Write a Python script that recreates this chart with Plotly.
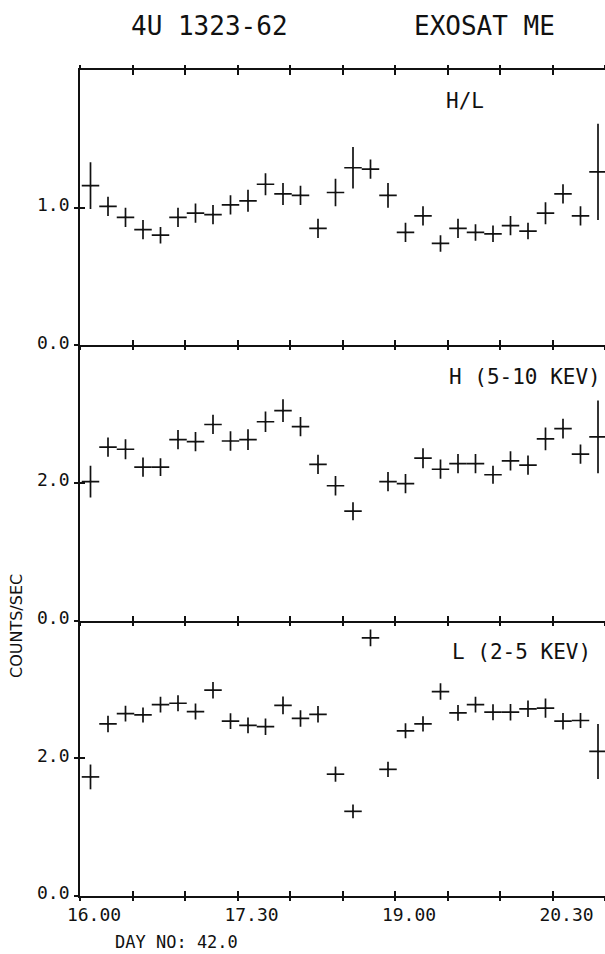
import plotly.graph_objects as go

# ---------------- data ----------------
times = ["16:06", "16:16", "16:26", "16:36", "16:46", "16:56",
         "17:06", "17:16", "17:26", "17:36", "17:46", "17:56",
         "18:06", "18:16", "18:26", "18:36", "18:46", "18:56",
         "19:06", "19:16", "19:26", "19:36", "19:46", "19:56",
         "20:06", "20:16", "20:26", "20:36", "20:46", "20:56"]
bin_half_width_min = 5

hl = [1.16, 1.01, 0.93, 0.84, 0.80, 0.93, 0.96, 0.95, 1.02, 1.05,
      1.17, 1.10, 1.09, 0.85, 1.11, 1.29, 1.28, 1.09, 0.82, 0.94,
      0.74, 0.85, 0.82, 0.81, 0.87, 0.83, 0.96, 1.10, 0.94, 1.26]
hl_err = [0.17, 0.07, 0.07, 0.07, 0.06, 0.07, 0.07, 0.07, 0.07, 0.08,
          0.08, 0.08, 0.07, 0.07, 0.10, 0.15, 0.07, 0.09, 0.07, 0.07,
          0.06, 0.07, 0.06, 0.06, 0.07, 0.06, 0.08, 0.07, 0.07, 0.35]

h = [2.02, 2.52, 2.49, 2.23, 2.23, 2.63, 2.60, 2.85, 2.61, 2.63,
     2.89, 3.05, 2.82, 2.27, 1.96, 1.59, 4.80, 2.02, 1.99, 2.36,
     2.20, 2.28, 2.28, 2.12, 2.32, 2.26, 2.64, 2.79, 2.42, 2.67]
h_err = [0.23, 0.14, 0.145, 0.14, 0.13, 0.14, 0.14, 0.14, 0.14, 0.15,
         0.15, 0.165, 0.14, 0.14, 0.14, 0.13, 0.15, 0.14, 0.14, 0.145,
         0.14, 0.14, 0.14, 0.13, 0.14, 0.14, 0.165, 0.145, 0.14, 0.53]

l = [1.73, 2.50, 2.65, 2.63, 2.78, 2.80, 2.68, 2.99, 2.54, 2.48,
     2.46, 2.77, 2.58, 2.64, 1.77, 1.23, 3.75, 1.84, 2.40, 2.50,
     2.97, 2.66, 2.78, 2.67, 2.67, 2.72, 2.73, 2.54, 2.55, 2.10]
l_err = [0.18, 0.12, 0.115, 0.11, 0.115, 0.115, 0.115, 0.12, 0.115, 0.115,
         0.12, 0.13, 0.12, 0.12, 0.11, 0.10, 0.12, 0.11, 0.11, 0.11,
         0.12, 0.115, 0.115, 0.115, 0.12, 0.12, 0.14, 0.12, 0.11, 0.40]

x_tick_vals = [16.0, 16.5, 17.0, 17.5, 18.0, 18.5, 19.0, 19.5, 20.0, 20.5, 21.0]
x_tick_text = ["16.00", "", "", "17.30", "", "", "19.00", "", "", "20.30", ""]
x_range = [16.0, 21.0]

panel_labels = ["H/L", "H (5-10 KEV)", "L (2-5 KEV)"]
y_ranges = [[0, 2], [0, 4], [0, 4]]
y_tick_vals = [[0, 1], [0, 2], [0, 2]]
y_tick_text = [["0.0", "1.0"], ["0.0", "2.0"], ["0.0", "2.0"]]

title_left = "4U 1323-62"
title_right = "EXOSAT ME"
day_label = "DAY NO: 42.0"
y_title = "COUNTS/SEC"

# ---------------- figure ----------------
def to_hours(t):
    hh, mm = t.split(":")
    return int(hh) + int(mm) / 60.0

hours = [to_hours(t) for t in times]

MONO = "DejaVu Sans Mono, Liberation Mono, monospace"
INK = "#111111"
LW = 1.7

series = [(hl, hl_err), (h, h_err), (l, l_err)]
domains = [[2 / 3, 1.0], [1 / 3, 2 / 3], [0.0, 1 / 3]]

fig = go.Figure()
layout = dict(
    width=605, height=954,
    margin=dict(l=80, r=0, t=70, b=58, pad=0),
    paper_bgcolor="white", plot_bgcolor="white",
    showlegend=False,
    font=dict(family=MONO, color=INK, size=18),
)

for i, (vals, errs) in enumerate(series):
    n = i + 1
    xa = "x" if n == 1 else f"x{n}"
    ya = "y" if n == 1 else f"y{n}"
    fig.add_trace(go.Scatter(
        x=hours, y=vals, xaxis=xa, yaxis=ya, mode="markers",
        marker=dict(size=2, color=INK),
        error_x=dict(type="constant", value=bin_half_width_min / 60.0,
                     thickness=LW, width=0, color=INK),
        error_y=dict(type="data", array=errs, visible=True,
                     thickness=LW, width=0, color=INK),
        hoverinfo="skip", cliponaxis=True,
    ))
    # overlay axes pair (gives ticks crossing the frame lines)
    m = n + 3
    fig.add_trace(go.Scatter(
        x=hours[:1], y=vals[:1], xaxis=f"x{m}", yaxis=f"y{m}", mode="markers",
        marker=dict(opacity=0), hoverinfo="skip",
    ))
    xkey = "xaxis" if n == 1 else f"xaxis{n}"
    ykey = "yaxis" if n == 1 else f"yaxis{n}"
    layout[xkey] = dict(
        domain=[0, 1], anchor=ya, range=x_range,
        showline=True, linecolor=INK, linewidth=LW,
        mirror=("allticks" if n == 1 else False),
        ticks="inside", ticklen=5, tickwidth=1.5, tickcolor=INK,
        tickvals=x_tick_vals, ticktext=x_tick_text,
        showticklabels=(n == 3), ticklabelshift=14, ticklabelstandoff=2,
        tickfont=dict(family=MONO, size=18, color=INK),
        showgrid=False, zeroline=False, fixedrange=True,
    )
    layout[ykey] = dict(
        domain=domains[i], anchor=xa, range=y_ranges[i],
        showline=True, linecolor=INK, linewidth=LW, mirror=False,
        ticks="inside", ticklen=5, tickwidth=1.5, tickcolor=INK,
        tickvals=y_tick_vals[i], ticktext=y_tick_text[i],
        ticklabelshift=-3, ticklabelstandoff=5,
        tickfont=dict(family=MONO, size=18, color=INK),
        showgrid=False, zeroline=False, fixedrange=True,
    )
    layout[f"xaxis{m}"] = dict(
        overlaying=xa, anchor=f"y{m}", range=x_range,
        showline=False, mirror=("allticks" if n == 1 else False),
        ticks="outside", ticklen=4, tickwidth=1.5, tickcolor=INK,
        tickvals=x_tick_vals, showticklabels=False,
        showgrid=False, zeroline=False, fixedrange=True,
    )
    layout[f"yaxis{m}"] = dict(
        overlaying=ya, anchor=f"x{m}", range=y_ranges[i],
        showline=False,
        ticks="outside", ticklen=5, tickwidth=1.5, tickcolor=INK,
        tickvals=y_tick_vals[i], showticklabels=False,
        showgrid=False, zeroline=False, fixedrange=True,
    )

PLOT_W = 605 - 80
PLOT_H = 954 - 70 - 58
def px_x(px):
    return (px - 80) / PLOT_W
def px_y(py):
    return (954 - 58 - py) / PLOT_H

annotations = [
    dict(text=title_left, x=px_x(209), y=px_y(26), xanchor="center", yanchor="middle",
         font=dict(family=MONO, size=26, color=INK)),
    dict(text=title_right, x=px_x(484), y=px_y(26), xanchor="center", yanchor="middle",
         font=dict(family=MONO, size=26, color=INK)),
    dict(text=panel_labels[0], x=px_x(465), y=px_y(101), xanchor="center", yanchor="middle",
         font=dict(family=MONO, size=21, color=INK)),
    dict(text=panel_labels[1], x=px_x(603), y=px_y(377), xanchor="right", yanchor="middle",
         font=dict(family=MONO, size=21, color=INK)),
    dict(text=panel_labels[2], x=px_x(593), y=px_y(652), xanchor="right", yanchor="middle",
         font=dict(family=MONO, size=21, color=INK)),
    dict(text=day_label, x=px_x(113), y=px_y(942), xanchor="left", yanchor="middle",
         font=dict(family=MONO, size=17, color=INK)),
    dict(text=y_title, x=px_x(17), y=px_y(626), xanchor="center", yanchor="middle",
         textangle=-90,
         font=dict(family="DejaVu Sans, Liberation Sans, sans-serif", size=16, color=INK)),
]
for a in annotations:
    a.update(xref="paper", yref="paper", showarrow=False)
layout["annotations"] = annotations

fig.update_layout(**layout)
fig.write_html("out.html", config={"displayModeBar": False})
